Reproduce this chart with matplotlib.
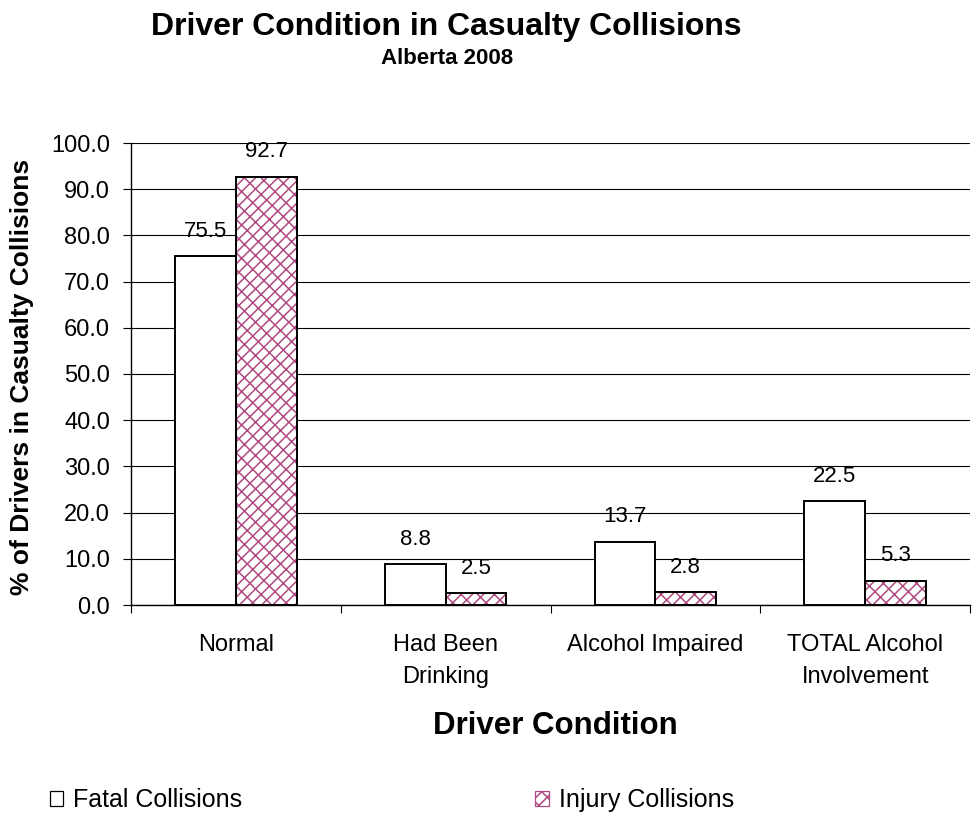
import matplotlib
matplotlib.use("Agg")
import matplotlib.pyplot as plt
import numpy as np
from matplotlib.patches import Patch

plt.rcParams['font.family'] = ['Liberation Sans', 'DejaVu Sans']
plt.rcParams['hatch.linewidth'] = 1.1

categories = ["Normal", "Had Been\nDrinking", "Alcohol Impaired", "TOTAL Alcohol\nInvolvement"]
fatal = [75.5, 8.8, 13.7, 22.5]
injury = [92.7, 2.5, 2.8, 5.3]
series_names = ["Fatal Collisions", "Injury Collisions"]
pink = "#b04a80"
hatch = "///\\\\"

W, H = 974, 817
fig = plt.figure(figsize=(W / 100, H / 100), dpi=100)
ax = fig.add_axes([131 / W, 1 - 605 / H, (970 - 131) / W, (605 - 143) / H])

x = np.arange(len(categories))
w = 0.29
ax.bar(x - w/2, fatal, w, facecolor="white", edgecolor="black", linewidth=1.4, zorder=3)
ax.bar(x + w/2, injury, w, facecolor="white", edgecolor=pink, hatch=hatch, linewidth=0, zorder=3)
ax.bar(x + w/2, injury, w, facecolor="none", edgecolor="black", linewidth=1.4, zorder=4)

for xi, v in zip(x - w/2, fatal):
    ax.text(xi, v + 4.2, f"{v:.1f}", ha="center", va="baseline", fontsize=16)
for xi, v in zip(x + w/2, injury):
    ax.text(xi, v + 4.2, f"{v:.1f}", ha="center", va="baseline", fontsize=16)

ax.set_xlim(-0.5, len(categories) - 0.5)
ax.set_ylim(0, 100)
yt = np.arange(0, 101, 10)
ax.set_yticks(yt)
ax.set_yticklabels([f"{t:.1f}" for t in yt], fontsize=17)
ax.yaxis.grid(True, color="black", linewidth=0.8, zorder=0)
ax.set_axisbelow(True)
ax.set_xticks(np.arange(-0.5, len(categories), 1.0))
ax.set_xticklabels([])
ax.set_xticks(x, minor=True)
ax.set_xticklabels(categories, minor=True, fontsize=17, linespacing=1.55)
ax.tick_params(axis="x", which="minor", length=0, pad=21)
ax.tick_params(axis="x", which="major", length=6, direction="out", width=0.8)
ax.tick_params(axis="y", length=6, direction="out", width=0.8, pad=9)
for s in ["top", "right"]:
    ax.spines[s].set_visible(False)
ax.spines["left"].set_linewidth(1.0)
ax.spines["bottom"].set_linewidth(1.0)

fig.text(22 / W, 1 - 377 / H, "% of Drivers in Casualty Collisions", rotation=90,
         ha="center", va="center", fontsize=19, fontweight="bold")
fig.text(555 / W, 1 - 726 / H, "Driver Condition", ha="center", va="center", fontsize=22.5, fontweight="bold")
fig.text(446 / W, 1 - 27 / H, "Driver Condition in Casualty Collisions", ha="center", va="center",
         fontsize=23, fontweight="bold")
fig.text(447 / W, 1 - 59 / H, "Alberta 2008", ha="center", va="center", fontsize=16, fontweight="bold")

handles = [Patch(facecolor="white", edgecolor="black", linewidth=0.9),
           Patch(facecolor="white", edgecolor=pink, hatch=hatch, linewidth=0.9)]
fig.legend(handles, series_names, loc="center left", bbox_to_anchor=(37 / W, 1 - 800 / H), ncol=2,
           frameon=False, fontsize=18, handlelength=0.55, handleheight=0.55, handletextpad=0.4,
           columnspacing=11.7, borderpad=0)

fig.savefig("out.png", dpi=100)
